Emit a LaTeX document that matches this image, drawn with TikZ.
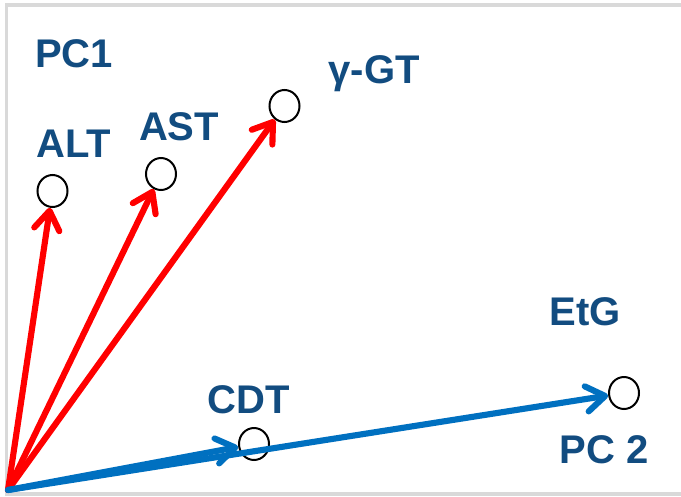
\documentclass[tikz,border=0pt]{standalone}
\usepackage{fontspec}
\setmainfont{Liberation Sans}
\usetikzlibrary{arrows.meta,shapes.geometric}
\definecolor{lblblue}{RGB}{18,76,128}
\definecolor{vecred}{RGB}{255,0,0}
\definecolor{vecblue}{RGB}{0,112,192}
\definecolor{framegray}{RGB}{217,217,217}
\tikzset{
  lbl/.style={text=lblblue, font=\fontsize{30}{34}\selectfont\bfseries, inner sep=0pt, anchor=base},
  pt/.style={draw=black, line width=1.5pt, ellipse, inner sep=0pt, minimum width=22.5pt, minimum height=24pt},
  vec/.style={line width=4.6pt, line cap=round, -{Straight Barb[length=14pt,width=19pt,round]}},
  redvec/.style={vec, draw=vecred},
  bluevec/.style={vec, draw=vecblue}
}
\begin{document}
\begin{tikzpicture}[x=0.75pt,y=-0.75pt]
\useasboundingbox (0,0) rectangle (681,496);
\fill[white] (0,0) rectangle (681,496);
\draw[framegray, line width=2.8pt] (6.5,5.2) rectangle (700,493.8);
% points
\node[pt] (alt) at (52.5,191) {};
\node[pt] (ast) at (161,174) {};
\node[pt] (ggt) at (284.5,106) {};
\node[pt] (cdt) at (254,444) {};
\node[pt] (etg) at (624,393) {};
\coordinate (O) at (8,490);
% vectors
\draw[redvec] (O) -- (alt);
\draw[redvec] (O) -- (ast);
\draw[redvec] (O) -- (ggt);
\draw[bluevec] (O) -- (cdt);
\draw[bluevec] (O) -- (etg);
% labels
\node[lbl] (pc1) at (74,67) {PC1};
\node[lbl] (altl) at (74,157) {ALT};
\node[lbl] (astl) at (179,140) {AST};
\node[lbl] (ggtl) at (374,83) {γ-GT};
\node[lbl] (etgl) at (585,325) {EtG};
\node[lbl] (cdtl) at (249,413) {CDT};
\node[lbl] (pc2) at (604,463) {PC 2};
\end{tikzpicture}
\end{document}
